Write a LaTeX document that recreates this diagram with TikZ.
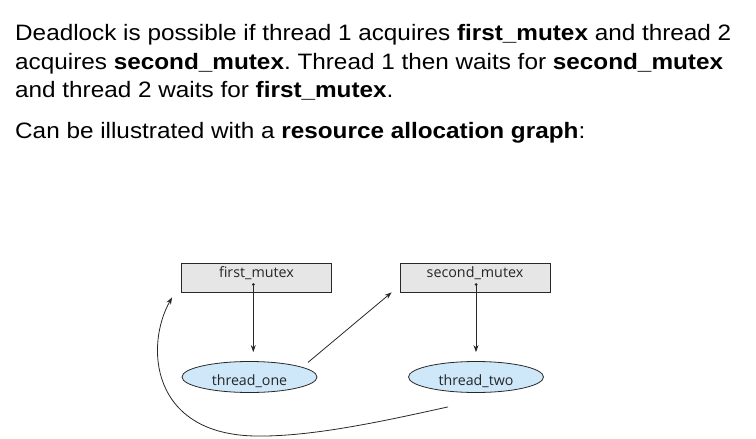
\documentclass[tikz,border=0pt]{standalone}
\usepackage{fontspec}
\setmainfont[FakeStretch=1.09]{Liberation Sans}
\newfontfamily\diagfont{Open Sans}
\usetikzlibrary{arrows.meta,shapes.geometric,calc}
\definecolor{boxgray}{RGB}{230,230,230}
\definecolor{ellblue}{RGB}{206,232,249}
\definecolor{linegray}{RGB}{40,40,40}
\frenchspacing
\begin{document}
\begin{tikzpicture}[x=1pt,y=-1pt,
  para/.style={anchor=base west,inner sep=0pt,font=\fontsize{22.3}{26}\selectfont},
  resbox/.style={draw=linegray,fill=boxgray,line width=0.8pt,minimum width=150pt,minimum height=29pt,inner sep=0pt,text height=10pt,text depth=10pt,font=\diagfont\fontsize{14.3}{16}\selectfont,text=black!85},
  thr/.style={ellipse,draw=linegray,fill=ellblue,line width=0.8pt,minimum width=135pt,minimum height=31pt,inner sep=0pt,text height=16pt,text depth=0pt,font=\diagfont\fontsize{14.2}{16}\selectfont,text=black!85},
  edge/.style={draw=linegray,line width=0.8pt,-{Stealth[length=7pt,width=5pt]}},
  dotc/.style={circle,fill=linegray,inner sep=0pt,minimum size=3pt}
]
\useasboundingbox (0,0) rectangle (756,439);
\node[para] (l1) at (15,40) {Deadlock is possible if thread 1 acquires \textbf{first\_mutex} and thread 2};
\node[para] (l2) at (15,69) {acquires \textbf{second\_mutex}. Thread 1 then waits for \textbf{second\_mutex}};
\node[para] (l3) at (15,97.5) {and thread 2 waits for \textbf{first\_mutex}.};
\node[para] (l4) at (15,138.5) {Can be illustrated with a \textbf{resource allocation graph}:};

\node[resbox] (m1) at (256.5,277.5) {first\_mutex};
\node[resbox] (m2) at (475,277.5) {second\_mutex};
\node[thr] (t1) at (249.5,377) {thread\_one};
\node[thr] (t2) at (476,377) {thread\_two};

\node[dotc] (d1) at (253.3,284.5) {};
\node[dotc] (d2) at (476,284.5) {};

\coordinate (a1) at ($(t1.north)+(3.8,-9)$);
\coordinate (a2) at ($(t2.north)+(0,-9)$);
\coordinate (b1) at ($(t1.north)+(58.5,1.3)$);
\coordinate (b2) at ($(m2.south west)+(-8,0)$);
\coordinate (c1) at ($(t2.south)+(-28,14)$);
\coordinate (c2) at ($(m1.south west)+(-9,5)$);

\draw[edge] (d1.center) -- (a1);
\draw[edge] (d2.center) -- (a2);
\draw[edge] (b1) -- (b2);
\draw[edge] (c1) .. controls (380,422) and (310,437) .. (255,436)
  .. controls (150,434) and (145,345) .. (c2);
\end{tikzpicture}
\end{document}
